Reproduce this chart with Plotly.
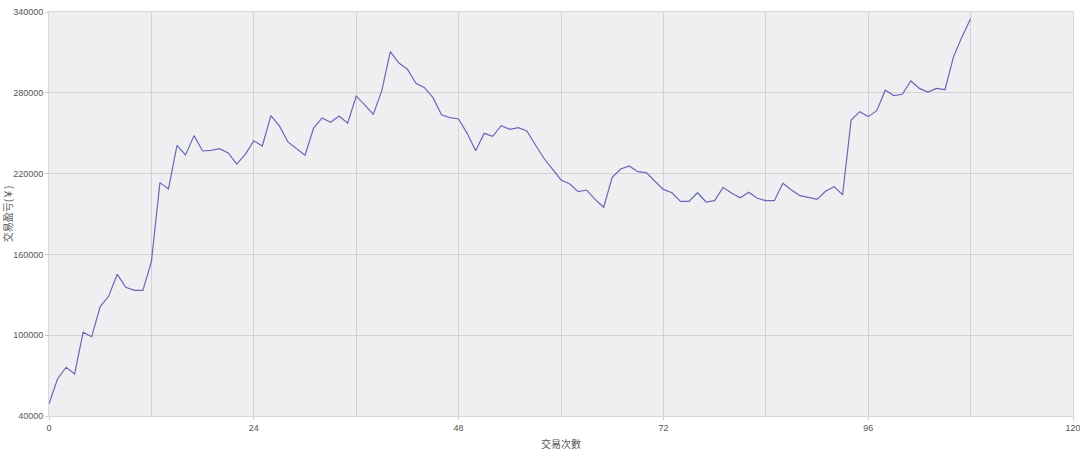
import plotly.graph_objects as go

trade_no = list(range(0, 109))
pnl = [
    49000, 67500, 76200, 71200, 102200, 98900, 121200, 129100, 145200, 135600,
    133300, 133300, 154600, 213300, 208600, 241000, 233800, 248200, 236800, 237300,
    238500, 235300, 227100, 234300, 244400, 240500, 263000, 255400, 243500, 238500,
    233600, 253600, 261300, 258100, 262800, 257400, 277600, 271000, 264000, 281600,
    310500, 302100, 297500, 287100, 283800, 276400, 263700, 261500, 260600, 249900,
    237000, 249900, 247700, 255600, 252900, 254100, 251600, 241200, 231400, 223400,
    215300, 212500, 206600, 207800, 200900, 195000, 217300, 223400, 225700, 221400,
    220700, 214300, 208300, 205800, 199400, 199400, 205800, 198900, 199900, 209800,
    205400, 202100, 206100, 201700, 199900, 199900, 212800, 207800, 203600, 202400,
    200900, 206900, 210300, 204300, 259800, 266000, 262300, 266700, 281900, 277900,
    278900, 288800, 283300, 280600, 283300, 282300, 306800, 321700, 335000,
]

x_title = "交易次數"
y_title = "交易盈亏(￥)"

fig = go.Figure()
fig.add_trace(go.Scatter(
    x=trade_no, y=pnl, mode="lines",
    line=dict(color="#6868b8", width=1.2),
    hoverinfo="x+y", showlegend=False,
))

axis_font = dict(family="Liberation Sans, Arial, sans-serif", size=9, color="#555555")
title_font = dict(family="Noto Sans CJK SC, sans-serif", size=10, color="#555555")

fig.update_layout(
    width=1080, height=455,
    margin=dict(l=49, r=7, t=12, b=39, autoexpand=False),
    paper_bgcolor="white",
    plot_bgcolor="#efeff1",
    font=axis_font,
    xaxis=dict(
        range=[0, 120], dtick=24, tick0=0, automargin=False,
        ticklabeloverflow="allow",
        showgrid=True, gridcolor="#d2d2d2", gridwidth=1,
        minor=dict(dtick=12, showgrid=True, gridcolor="#d2d2d2", gridwidth=1),
        ticks="outside", ticklen=3, tickcolor="#cccccc",
        showline=True, linecolor="#d8d8d8", mirror=True,
        zeroline=False,
        title=dict(text=x_title, font=title_font, standoff=9),
        tickfont=axis_font,
    ),
    yaxis=dict(
        range=[40000, 340000], dtick=60000, tick0=40000, automargin=False,
        ticklabeloverflow="allow",
        showgrid=True, gridcolor="#d2d2d2", gridwidth=1,
        ticks="outside", ticklen=3, tickcolor="#cccccc",
        showline=True, linecolor="#d8d8d8", mirror=True,
        zeroline=False, tickformat="d",
        title=dict(text=y_title, font=title_font, standoff=4),
        tickfont=axis_font,
    ),
)

fig.write_html("out.html", config={"displayModeBar": False},
               post_script="document.body.style.margin='0';")
